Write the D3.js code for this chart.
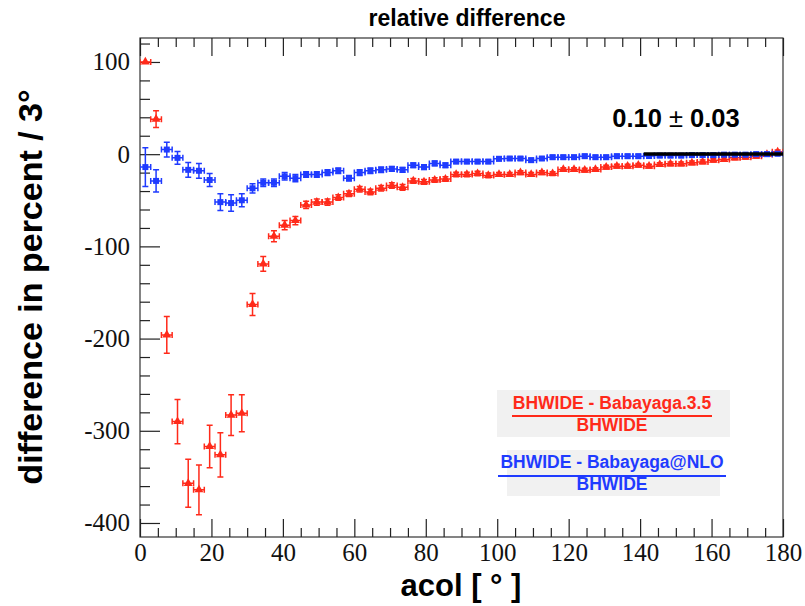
<!DOCTYPE html>
<html><head><meta charset="utf-8">
<script src="https://cdn.jsdelivr.net/npm/d3@7"></script>
<style>
html,body{margin:0;padding:0;background:#fff;}
svg{display:block;}
</style></head>
<body>
<script>
// ---- data ----
const binCenters = [1.5,4.5,7.5,10.5,13.5,16.5,19.5,22.5,25.5,28.5,31.5,34.5,37.5,40.5,43.5,46.5,49.5,52.5,55.5,58.5,
  61.5,64.5,67.5,70.5,73.5,76.5,79.5,82.5,85.5,88.5,91.5,94.5,97.5,100.5,103.5,106.5,109.5,112.5,115.5,118.5,
  121.5,124.5,127.5,130.5,133.5,136.5,139.5,142.5,145.5,148.5,151.5,154.5,157.5,160.5,163.5,166.5,169.5,172.5,175.5,178.5];
const binHalfWidth = 1.5;
const redValues = [100,38,-196,-290,-357,-364,-317,-326,-283,-281,-163,-119,-89,-77,-72,-55,-52,-52,-47,-43,
  -38,-41,-37,-34,-36,-29,-30,-28,-27,-22,-22,-21,-23,-22,-22,-20,-22,-20,-21,-16.6,
  -16.6,-17.4,-16.6,-14,-13,-13,-12,-13,-11.2,-10.5,-10.5,-9.4,-8.4,-6.5,-5.7,-4,-3.3,-2.2,-0.3,2.5];
const redErrors = [0,9,20,24,26,27,23,24,22,20,12,8,6,5,4.5,4,3.5,3.5,3,3,
  3,3,3,3,3,2.5,2.5,2.5,2.5,2.5,2.5,2.5,2.5,2,2,2,2,2,2,2,
  2,2,2,2,2,2,2,2,2,2,2,2,2,2,2,2,2,2,2,2];
const blueValues = [-14,-29,5,-4,-17,-18,-28,-52,-53,-50,-37,-31,-31,-24,-26,-22,-22,-20,-18,-26,
  -20,-18,-17,-16,-17,-12,-14,-10,-12,-8,-8,-8,-8,-5,-4.7,-4.7,-6.5,-4.7,-3.3,-3.3,
  -3.3,-2.2,-3.3,-3.3,-2.2,-2.2,-2.2,-2,-1.5,-1.5,-1.5,-1,-1,-1,-0.5,-0.5,-0.5,0,0,0.5];
const blueErrors = [21,12,8,7,8,8,7,9,9,7,5,4,4,4,4,3,3,3,3,3,
  3,3,3,2.5,2.5,2.5,2.5,2.5,2.5,2,2,2,2,2,2,2,2,2,2,2,
  2,2,2,2,2,2,2,2,2,2,2,2,2,2,2,2,2,2,2,2];
const fitRange = [141, 180];
const fitValue = 0.10;
const fitLabel = ["0.10 ", "\u00b1", " 0.03"];
const xTicks = [0,20,40,60,80,100,120,140,160,180];
const yTicks = [100,0,-100,-200,-300,-400];
const titleText = "relative difference";
const xLabel = "acol [ \u00b0 ]";
const yLabel = "difference in percent / 3\u00b0";
const legendRed = ["BHWIDE - Babayaga.3.5", "BHWIDE"];
const legendBlue = ["BHWIDE - Babayaga@NLO", "BHWIDE"];

// ---- layout ----
const W = 805, H = 606;
const pL = 140, pR = 783, pT = 38, pB = 537;
const RED = "#ff2a1a", BLUE = "#1f3bff";

const svg = d3.select("body").append("svg").attr("width", W).attr("height", H);

const x = d3.scaleLinear().domain([0, 180]).range([pL, pR]);
const y = d3.scaleLinear().domain([-415.2, 126]).range([pB, pT]);

svg.append("defs").append("clipPath").attr("id","plot")
  .append("rect").attr("x",pL).attr("y",pT).attr("width",pR-pL).attr("height",pB-pT);

svg.append("rect").attr("x",pL).attr("y",pT).attr("width",pR-pL).attr("height",pB-pT)
  .attr("fill","none").attr("stroke","#333").attr("stroke-width",1.2);

const serif = "'Liberation Serif','Times New Roman',serif";
const sans = "'Liberation Sans',Arial,Helvetica,sans-serif";

const xMinor = d3.range(0, 181, 5).filter(v => v % 20 !== 0);
const yMinor = d3.range(-400, 121, 20).filter(v => v % 100 !== 0);
const fmt = d => String(d);

function styleAxis(g){
  g.select(".domain").remove();
  g.selectAll(".tick line").attr("stroke","#222").attr("stroke-width",1.2);
  g.selectAll("text").attr("font-family", serif).attr("font-size", 25).attr("fill","#111");
}
svg.append("g").attr("transform",`translate(0,${pB})`)
  .call(d3.axisBottom(x).tickValues(xTicks).tickSize(-18).tickPadding(6).tickFormat(fmt))
  .call(styleAxis);
svg.append("g").attr("transform",`translate(0,${pB})`)
  .call(d3.axisBottom(x).tickValues(xMinor).tickSize(-9).tickFormat(""))
  .call(styleAxis);
svg.append("g").attr("transform",`translate(0,${pT})`)
  .call(d3.axisTop(x).tickValues(xTicks).tickSize(-18).tickFormat(""))
  .call(styleAxis);
svg.append("g").attr("transform",`translate(0,${pT})`)
  .call(d3.axisTop(x).tickValues(xMinor).tickSize(-9).tickFormat(""))
  .call(styleAxis);
svg.append("g").attr("transform",`translate(${pL},0)`)
  .call(d3.axisLeft(y).tickValues(yTicks).tickSize(-20).tickPadding(10).tickFormat(fmt))
  .call(styleAxis);
svg.append("g").attr("transform",`translate(${pL},0)`)
  .call(d3.axisLeft(y).tickValues(yMinor).tickSize(-10).tickFormat(""))
  .call(styleAxis);

function drawSeries(vals, errs, color, shape){
  const g = svg.append("g").attr("clip-path","url(#plot)");
  const cap = 3;
  binCenters.forEach((c, i) => {
    const cx = x(c), cy = y(vals[i]);
    const x0 = x(c - binHalfWidth), x1 = x(c + binHalfWidth);
    const ey0 = y(vals[i] + errs[i]), ey1 = y(vals[i] - errs[i]);
    const p = d3.path();
    p.moveTo(x0, cy); p.lineTo(x1, cy);
    p.moveTo(x0, cy - cap); p.lineTo(x0, cy + cap);
    p.moveTo(x1, cy - cap); p.lineTo(x1, cy + cap);
    if (errs[i] > 0) {
      p.moveTo(cx, ey0); p.lineTo(cx, ey1);
      p.moveTo(cx - cap, ey0); p.lineTo(cx + cap, ey0);
      p.moveTo(cx - cap, ey1); p.lineTo(cx + cap, ey1);
    }
    g.append("path").attr("d", p.toString()).attr("stroke", color).attr("stroke-width", 1.5).attr("fill","none");
    if (shape === "tri") {
      g.append("path").attr("d", d3.symbol(d3.symbolTriangle, 34)())
        .attr("transform",`translate(${cx},${cy})`).attr("fill", color);
    } else {
      g.append("rect").attr("x", cx-3).attr("y", cy-3).attr("width",6).attr("height",6).attr("fill", color);
    }
  });
}
drawSeries(redValues, redErrors, RED, "tri");
drawSeries(blueValues, blueErrors, BLUE, "sq");

svg.append("line").attr("x1", x(fitRange[0])).attr("x2", x(fitRange[1]))
  .attr("y1", y(fitValue)).attr("y2", y(fitValue)).attr("stroke","#000").attr("stroke-width",3.5);
const ft = svg.append("text").attr("x", 676).attr("y", 127).attr("text-anchor","middle")
  .attr("font-family", sans).attr("font-size",25.5).attr("fill","#000");
ft.append("tspan").attr("font-weight","bold").text(fitLabel[0]);
ft.append("tspan").attr("font-weight","normal").text(fitLabel[1]);
ft.append("tspan").attr("font-weight","bold").text(fitLabel[2]);

svg.append("text").attr("x", 467).attr("y", 26).attr("text-anchor","middle")
  .attr("font-family", sans).attr("font-weight","bold").attr("font-size",23).text(titleText);

svg.append("text").attr("x", 461).attr("y", 596).attr("text-anchor","middle")
  .attr("font-family", sans).attr("font-weight","bold").attr("font-size",31).text(xLabel);
svg.append("text").attr("transform","translate(42,287) rotate(-90)").attr("text-anchor","middle")
  .attr("font-family", sans).attr("font-weight","bold").attr("font-size",34).text(yLabel);

function legendBox(bx, by, bw, bh, lines, color, lineX0, lineX1, lineY, y1, y2, cx){
  svg.append("rect").attr("x",bx).attr("y",by).attr("width",bw).attr("height",bh).attr("fill","#f1f1f1");
  svg.append("text").attr("x",cx).attr("y",y1).attr("text-anchor","middle").attr("fill",color)
    .attr("font-family",sans).attr("font-weight","bold").attr("font-size",17.5).text(lines[0]);
  svg.append("line").attr("x1",lineX0).attr("x2",lineX1).attr("y1",lineY).attr("y2",lineY)
    .attr("stroke",color).attr("stroke-width",2.2);
  svg.append("text").attr("x",cx).attr("y",y2).attr("text-anchor","middle").attr("fill",color)
    .attr("font-family",sans).attr("font-weight","bold").attr("font-size",17.5).text(lines[1]);
}
legendBox(497, 390, 233, 47, legendRed, RED, 512, 712, 416, 409, 431, 612);
legendBox(507, 450, 213, 46, legendBlue, BLUE, 498, 726, 476, 468, 490, 612);
</script>
</body></html>
